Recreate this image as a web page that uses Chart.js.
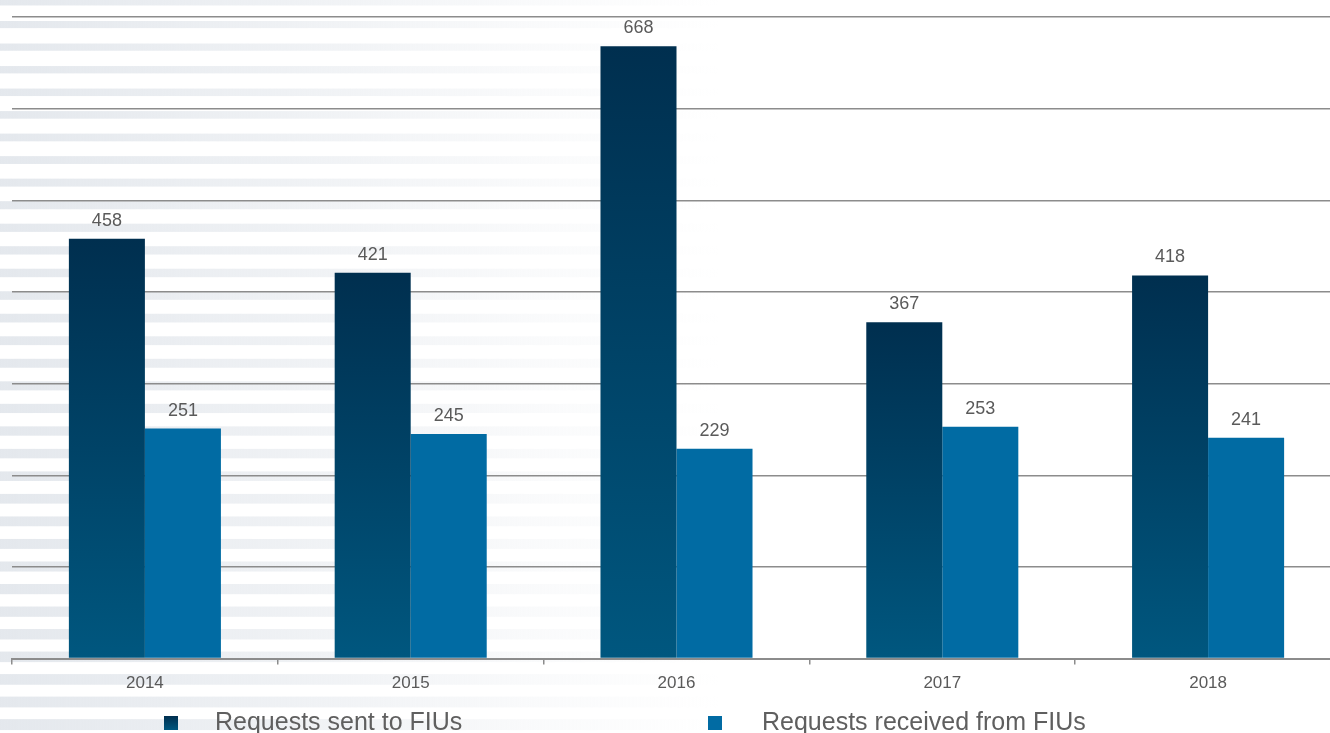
<!DOCTYPE html>
<html>
<head>
<meta charset="utf-8">
<script src="https://cdn.jsdelivr.net/npm/chart.js@4.4.1/dist/chart.umd.min.js"></script>
<style>
  html, body { margin: 0; padding: 0; background: #ffffff; overflow: hidden; width: 1330px; height: 733px; }
  #wrap { position: relative; width: 1330px; height: 733px; overflow: hidden; }
  canvas { position: absolute; left: 0; top: 0; }
  .lg { position: absolute; font-family: "Liberation Sans", Arial, sans-serif; font-size: 25px; line-height: 25px; color: #5f5f5f; white-space: nowrap; }
  .sw { position: absolute; width: 14px; height: 14px; }
</style>
</head>
<body>
<div id="wrap">
  <canvas id="c" width="1342" height="733"></canvas>
  <div id="legend"></div>
</div>
<script>
// ---- data ----
const categories = ['2014', '2015', '2016', '2017', '2018'];
const seriesNames = ['Requests sent to FIUs', 'Requests received from FIUs'];
const sentToFIUs = [458, 421, 668, 367, 418];
const receivedFromFIUs = [251, 245, 229, 253, 241];
const yTicks = [0, 100, 200, 300, 400, 500, 600, 700];

// ---- styling ----
const DARK_TOP = '#002f4f';
const DARK_BOTTOM = '#00577f';
const LIGHT = '#016ba3';
const GRID = '#8c8c8c';
const TEXT = '#5a5a5a';
const FONT = '"Liberation Sans", Arial, sans-serif';

function darkGradient(ctx) {
  const chart = ctx.chart;
  const area = chart.chartArea;
  if (!area || ctx.type !== 'data') return DARK_BOTTOM;
  const y = chart.scales.y;
  const top = y.getPixelForValue(ctx.raw);
  const bottom = y.getPixelForValue(0);
  if (!isFinite(top) || !isFinite(bottom) || top === bottom) return DARK_BOTTOM;
  const g = chart.ctx.createLinearGradient(0, top, 0, bottom);
  g.addColorStop(0, DARK_TOP);
  g.addColorStop(1, DARK_BOTTOM);
  return g;
}

const stripesPlugin = {
  id: 'stripes',
  beforeDraw(chart) {
    const c = chart.ctx;
    const H = chart.height;
    c.save();
    const g = c.createLinearGradient(0, 0, 720, 0);
    g.addColorStop(0, 'rgba(228,232,237,1)');
    g.addColorStop(0.4, 'rgba(228,232,237,0.6)');
    g.addColorStop(0.75, 'rgba(228,232,237,0.2)');
    g.addColorStop(1, 'rgba(228,232,237,0)');
    c.fillStyle = g;
    const period = 22.52;
    for (let k = -1; k < 34; k++) {
      const y0 = 21 + period * k;
      const t = 7 + 4 * Math.max(0, y0) / H;
      c.fillRect(0, y0, 720, t);
    }
    c.restore();
  }
};

const valueLabels = {
  id: 'valueLabels',
  afterDatasetsDraw(chart) {
    const c = chart.ctx;
    c.save();
    c.font = '18px ' + FONT;
    c.fillStyle = TEXT;
    c.textAlign = 'center';
    c.textBaseline = 'alphabetic';
    chart.data.datasets.forEach((ds, i) => {
      const meta = chart.getDatasetMeta(i);
      meta.data.forEach((bar, j) => {
        c.fillText(String(ds.data[j]), bar.x, bar.y - 13);
      });
    });
    c.restore();
  }
};

const chart = new Chart(document.getElementById('c'), {
  type: 'bar',
  data: {
    labels: categories,
    datasets: [
      { label: seriesNames[0], data: sentToFIUs, backgroundColor: darkGradient, borderWidth: 0 },
      { label: seriesNames[1], data: receivedFromFIUs, backgroundColor: LIGHT, borderWidth: 0 }
    ]
  },
  options: {
    responsive: false,
    animation: false,
    devicePixelRatio: 1,
    layout: { padding: { left: 12, right: 1, top: 17, bottom: 30 } },
    datasets: { bar: { barPercentage: 1.0, categoryPercentage: 0.572 } },
    plugins: {
      legend: { display: false },
      tooltip: { enabled: false }
    },
    scales: {
      x: {
        offset: true,
        grid: { display: true, drawOnChartArea: false, drawTicks: true, tickLength: 6, color: GRID, lineWidth: 1.5, offset: true },
        border: { display: true, color: GRID, width: 2 },
        ticks: { color: TEXT, font: { family: FONT, size: 17 }, padding: 9, maxRotation: 0 }
      },
      y: {
        min: 0,
        max: 700,
        afterBuildTicks(scale) { scale.ticks = yTicks.map(v => ({ value: v })); },
        grid: { color: GRID, lineWidth: 1.5, drawTicks: false },
        border: { display: false },
        ticks: { display: false }
      }
    }
  },
  plugins: [stripesPlugin, valueLabels]
});

// ---- legend (HTML) ----
const legend = document.getElementById('legend');
const legendPos = [{ sw: 164, tx: 215 }, { sw: 708, tx: 762 }];
seriesNames.forEach((name, i) => {
  const sw = document.createElement('div');
  sw.className = 'sw';
  sw.style.left = legendPos[i].sw + 'px';
  sw.style.top = '716px';
  sw.style.background = i === 0 ? 'linear-gradient(' + DARK_TOP + ',' + DARK_BOTTOM + ')' : LIGHT;
  legend.appendChild(sw);
  const tx = document.createElement('div');
  tx.className = 'lg';
  tx.style.left = legendPos[i].tx + 'px';
  tx.style.top = '709px';
  tx.textContent = name;
  legend.appendChild(tx);
});
</script>
</body>
</html>
